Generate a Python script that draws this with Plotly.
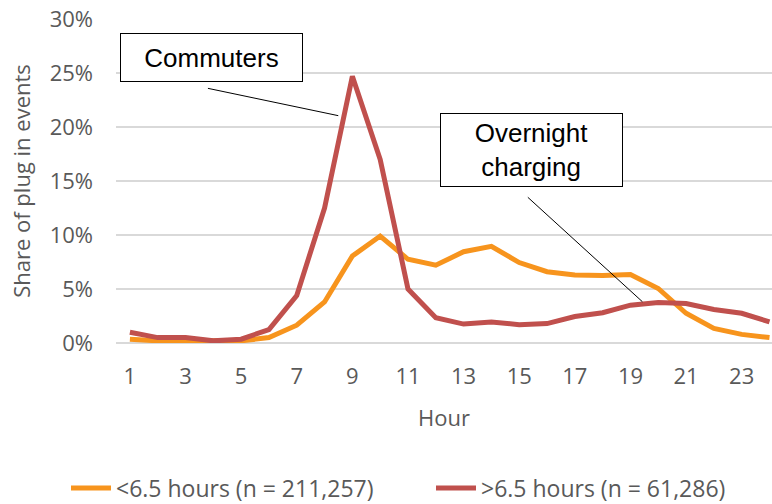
import plotly.graph_objects as go

hours = list(range(1, 25))
short_label = "<6.5 hours (n = 211,257)"
long_label = ">6.5 hours (n = 61,286)"
short_share = [0.35, 0.2, 0.2, 0.15, 0.2, 0.5, 1.65, 3.8, 8.05, 9.9, 7.75, 7.2,
               8.45, 8.95, 7.45, 6.6, 6.3, 6.25, 6.35, 5.05, 2.75, 1.35, 0.8, 0.5]
long_share = [1.0, 0.5, 0.5, 0.2, 0.35, 1.25, 4.4, 12.5, 24.7, 17.0, 5.0, 2.35,
              1.75, 1.95, 1.7, 1.8, 2.45, 2.8, 3.5, 3.75, 3.65, 3.1, 2.75, 1.95]
x_ticks = [1, 3, 5, 7, 9, 11, 13, 15, 17, 19, 21, 23]
y_ticks = [0, 5, 10, 15, 20, 25, 30]

ORANGE = "#F7941D"
RED = "#C0504D"
GREY = "#595959"
TICK_FONT = dict(family="Open Sans", size=22, color=GREY)
LEG_FONT = dict(family="Open Sans", size=23, color=GREY)

W, H = 772, 504

fig = go.Figure()
fig.add_trace(go.Scatter(x=hours, y=short_share, mode="lines", name=short_label,
                         line=dict(color=ORANGE, width=5), legend="legend"))
fig.add_trace(go.Scatter(x=hours, y=long_share, mode="lines", name=long_label,
                         line=dict(color=RED, width=5), legend="legend2"))

leg_common = dict(orientation="h", xref="container", yref="container",
                  xanchor="left", y=1 - 488 / H, yanchor="middle",
                  font=LEG_FONT, itemwidth=40)

fig.update_layout(
    width=W, height=H,
    margin=dict(l=116, r=0, t=19, b=161, autoexpand=False),
    plot_bgcolor="white", paper_bgcolor="white",
    showlegend=True,
    legend=dict(x=66 / W, **leg_common),
    legend2=dict(x=431 / W, **leg_common),
    xaxis=dict(range=[0.5, 24.09], tickvals=x_ticks, ticktext=[str(v) for v in x_ticks],
               showgrid=False, zeroline=False, showline=False, ticks="",
               tickfont=TICK_FONT, ticklabelstandoff=18, ticklabeloverflow="allow",
               title=dict(text="Hour", font=TICK_FONT, standoff=21)),
    yaxis=dict(range=[0, 30], tickvals=y_ticks, ticktext=[f"{v}%" for v in y_ticks],
               showgrid=True, gridcolor="#D9D9D9", gridwidth=1.5,
               zeroline=True, zerolinecolor="#D9D9D9", zerolinewidth=1.5,
               ticks="", tickfont=TICK_FONT, ticklabelstandoff=22, ticklabeloverflow="allow",
               title=dict(text="Share of plug in events", font=TICK_FONT, standoff=12)),
)

ANN_FONT = dict(family="Liberation Sans", size=26, color="black")
fig.add_annotation(x=3.95, y=26.4, xref="x", yref="y", text="Commuters",
                   showarrow=False, font=ANN_FONT, bgcolor="white",
                   bordercolor="black", borderwidth=1, borderpad=0,
                   width=181, height=47)
fig.add_annotation(x=15.44, y=17.84, xref="x", yref="y", text="Overnight<br>charging",
                   showarrow=False, font=ANN_FONT, bgcolor="white",
                   bordercolor="black", borderwidth=1, borderpad=0,
                   width=181, height=72)
fig.add_shape(type="line", xref="x", yref="y", x0=3.806, y0=23.58, x1=8.493, y1=21.05,
              line=dict(color="black", width=1))
fig.add_shape(type="line", xref="x", yref="y", x0=15.31, y0=13.49, x1=19.43, y1=3.82,
              line=dict(color="black", width=1))

# remove the browser's default 8px body margin so the 772x504 figure fills the page
fig.write_html("out.html", config={"displayModeBar": False},
               post_script="document.body.style.margin='0px';")
